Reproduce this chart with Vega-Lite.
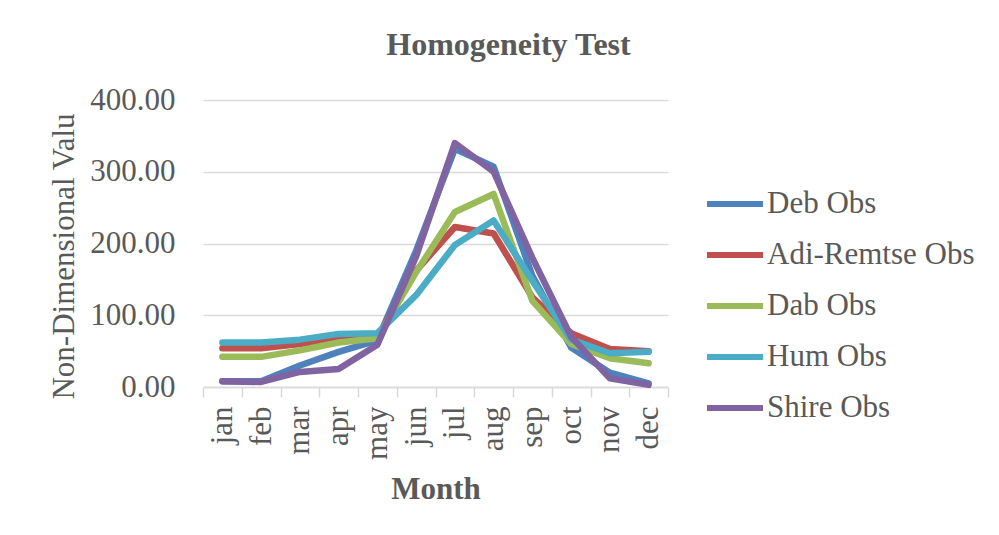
{
  "$schema": "https://vega.github.io/schema/vega-lite/v6.json",
  "width": 465,
  "height": 287,
  "autosize": {"type": "none"},
  "padding": {"left": 203, "top": 100, "right": 331, "bottom": 148},
  "background": "white",
  "title": {
    "text": "Homogeneity Test",
    "font": "Liberation Serif",
    "fontSize": 32,
    "fontWeight": "bold",
    "color": "#595959",
    "anchor": "middle",
    "frame": "group",
    "dx": 73,
    "dy": 31,
    "baseline": "alphabetic",
    "offset": 28
  },
  "config": {
    "view": {"stroke": null},
    "font": "Liberation Serif"
  },
  "data": {
    "values": [
      {"station": "Deb Obs", "month": "jan", "value": 8},
      {"station": "Deb Obs", "month": "feb", "value": 8},
      {"station": "Deb Obs", "month": "mar", "value": 30},
      {"station": "Deb Obs", "month": "apr", "value": 49},
      {"station": "Deb Obs", "month": "may", "value": 65},
      {"station": "Deb Obs", "month": "jun", "value": 190},
      {"station": "Deb Obs", "month": "jul", "value": 332},
      {"station": "Deb Obs", "month": "aug", "value": 307},
      {"station": "Deb Obs", "month": "sep", "value": 155},
      {"station": "Deb Obs", "month": "oct", "value": 55},
      {"station": "Deb Obs", "month": "nov", "value": 20},
      {"station": "Deb Obs", "month": "dec", "value": 5},
      {"station": "Adi-Remtse Obs", "month": "jan", "value": 54},
      {"station": "Adi-Remtse Obs", "month": "feb", "value": 54},
      {"station": "Adi-Remtse Obs", "month": "mar", "value": 60},
      {"station": "Adi-Remtse Obs", "month": "apr", "value": 67},
      {"station": "Adi-Remtse Obs", "month": "may", "value": 69},
      {"station": "Adi-Remtse Obs", "month": "jun", "value": 162},
      {"station": "Adi-Remtse Obs", "month": "jul", "value": 223},
      {"station": "Adi-Remtse Obs", "month": "aug", "value": 214},
      {"station": "Adi-Remtse Obs", "month": "sep", "value": 125},
      {"station": "Adi-Remtse Obs", "month": "oct", "value": 75},
      {"station": "Adi-Remtse Obs", "month": "nov", "value": 53},
      {"station": "Adi-Remtse Obs", "month": "dec", "value": 50},
      {"station": "Dab Obs", "month": "jan", "value": 42},
      {"station": "Dab Obs", "month": "feb", "value": 42},
      {"station": "Dab Obs", "month": "mar", "value": 51},
      {"station": "Dab Obs", "month": "apr", "value": 62},
      {"station": "Dab Obs", "month": "may", "value": 68},
      {"station": "Dab Obs", "month": "jun", "value": 160},
      {"station": "Dab Obs", "month": "jul", "value": 244},
      {"station": "Dab Obs", "month": "aug", "value": 269},
      {"station": "Dab Obs", "month": "sep", "value": 120},
      {"station": "Dab Obs", "month": "oct", "value": 60},
      {"station": "Dab Obs", "month": "nov", "value": 40},
      {"station": "Dab Obs", "month": "dec", "value": 33},
      {"station": "Hum Obs", "month": "jan", "value": 62},
      {"station": "Hum Obs", "month": "feb", "value": 62},
      {"station": "Hum Obs", "month": "mar", "value": 66},
      {"station": "Hum Obs", "month": "apr", "value": 74},
      {"station": "Hum Obs", "month": "may", "value": 75},
      {"station": "Hum Obs", "month": "jun", "value": 128},
      {"station": "Hum Obs", "month": "jul", "value": 198},
      {"station": "Hum Obs", "month": "aug", "value": 232},
      {"station": "Hum Obs", "month": "sep", "value": 148},
      {"station": "Hum Obs", "month": "oct", "value": 66},
      {"station": "Hum Obs", "month": "nov", "value": 47},
      {"station": "Hum Obs", "month": "dec", "value": 49},
      {"station": "Shire Obs", "month": "jan", "value": 8},
      {"station": "Shire Obs", "month": "feb", "value": 7},
      {"station": "Shire Obs", "month": "mar", "value": 21},
      {"station": "Shire Obs", "month": "apr", "value": 25},
      {"station": "Shire Obs", "month": "may", "value": 59},
      {"station": "Shire Obs", "month": "jun", "value": 182},
      {"station": "Shire Obs", "month": "jul", "value": 340},
      {"station": "Shire Obs", "month": "aug", "value": 300},
      {"station": "Shire Obs", "month": "sep", "value": 180},
      {"station": "Shire Obs", "month": "oct", "value": 70},
      {"station": "Shire Obs", "month": "nov", "value": 12},
      {"station": "Shire Obs", "month": "dec", "value": 3}
    ]
  },
  "mark": {"type": "line", "strokeWidth": 6.5, "strokeCap": "round", "strokeJoin": "round"},
  "encoding": {
    "x": {
      "field": "month",
      "type": "ordinal",
      "sort": ["jan", "feb", "mar", "apr", "may", "jun", "jul", "aug", "sep", "oct", "nov", "dec"],
      "bandPosition": 0.5,
      "scale": {"type": "band", "paddingInner": 0, "paddingOuter": 0},
      "axis": {
        "title": "Month",
        "titleFont": "Liberation Serif",
        "titleFontSize": 31,
        "titleFontWeight": "bold",
        "titleColor": "#595959",
        "titleBaseline": "alphabetic",
        "titleY": 111,
        "labelAngle": -90,
        "labelFont": "Liberation Serif",
        "labelFontSize": 31,
        "labelColor": "#595959",
        "labelPadding": 9,
        "tickBand": "extent",
        "ticks": true,
        "tickSize": 10,
        "tickColor": "#d9d9d9",
        "tickWidth": 1.5,
        "domain": true,
        "domainColor": "#d9d9d9",
        "domainWidth": 1.5,
        "grid": false
      }
    },
    "y": {
      "field": "value",
      "type": "quantitative",
      "scale": {"domain": [0, 400], "nice": false},
      "axis": {
        "title": "Non-Dimensional Valu",
        "titleFont": "Liberation Serif",
        "titleFontSize": 31,
        "titleFontWeight": "normal",
        "titleColor": "#595959",
        "titleAngle": -90,
        "titleAlign": "center",
        "titleBaseline": "alphabetic",
        "titleX": -130,
        "titleY": 156,
        "values": [0, 100, 200, 300, 400],
        "format": ".2f",
        "labelFont": "Liberation Serif",
        "labelFontSize": 31,
        "labelColor": "#595959",
        "labelPadding": 28,
        "ticks": false,
        "domain": false,
        "grid": true,
        "gridColor": "#d9d9d9",
        "gridWidth": 1.5
      }
    },
    "color": {
      "field": "station",
      "type": "nominal",
      "sort": ["Deb Obs", "Adi-Remtse Obs", "Dab Obs", "Hum Obs", "Shire Obs"],
      "scale": {
        "domain": ["Deb Obs", "Adi-Remtse Obs", "Dab Obs", "Hum Obs", "Shire Obs"],
        "range": ["#4F81BD", "#C0504D", "#9BBB59", "#4BACC6", "#8064A2"]
      },
      "legend": {
        "title": null,
        "orient": "none",
        "legendX": 501,
        "legendY": 73,
        "padding": 0,
        "symbolType": "stroke",
        "symbolSize": 3136,
        "symbolStrokeWidth": 6,
        "labelFont": "Liberation Serif",
        "labelFontSize": 31,
        "labelColor": "#595959",
        "labelOffset": 1,
        "labelLimit": 400,
        "rowPadding": 5
      }
    }
  }
}
